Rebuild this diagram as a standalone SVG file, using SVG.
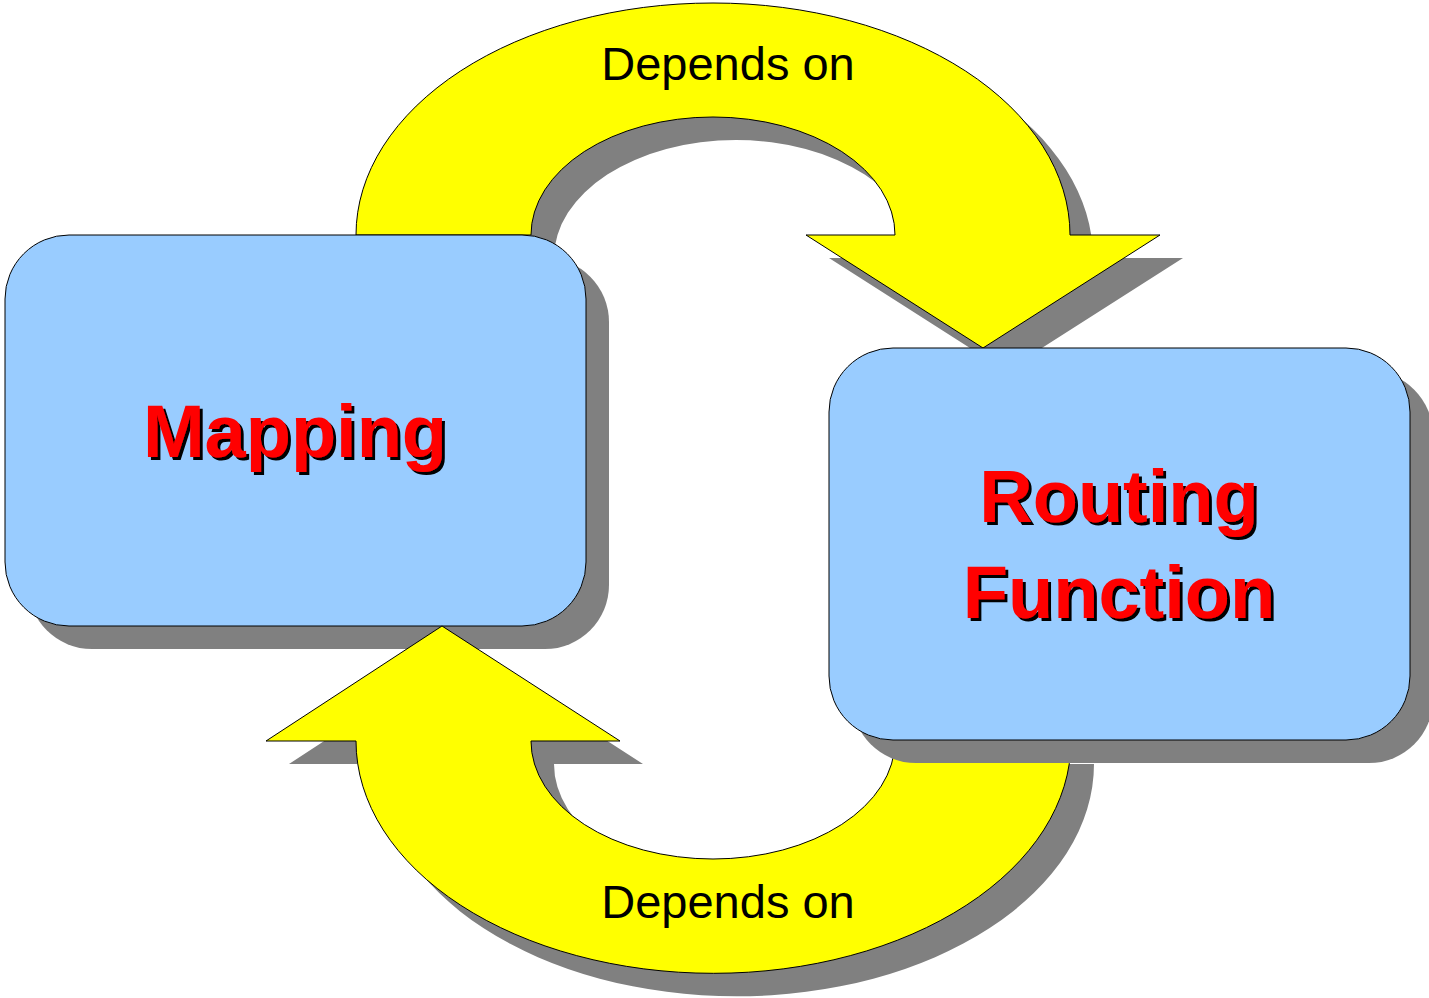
<svg xmlns="http://www.w3.org/2000/svg" xmlns:xlink="http://www.w3.org/1999/xlink" width="1429" height="998" viewBox="0 0 1429 998">
<style>
.shadow{fill:#808080;stroke:none}
.arrow{fill:#ffff00;stroke:#000;stroke-width:1}
.box{fill:#99ccff;stroke:#000;stroke-width:1}
.lbl{font-family:"Liberation Sans",Arial,sans-serif;font-size:47px;fill:#000;text-anchor:middle}
.title{font-family:"Liberation Sans",Arial,sans-serif;font-size:74px;font-weight:bold;text-anchor:middle;fill:#ff0000;filter:url(#tshadow)}
</style>
<defs>
<filter id="tshadow" x="-10%" y="-20%" width="120%" height="140%">
<feOffset in="SourceAlpha" dx="3" dy="3" result="off"/>
<feFlood flood-color="#000"/>
<feComposite in2="off" operator="in" result="sh"/>
<feMerge><feMergeNode in="sh"/><feMergeNode in="SourceGraphic"/></feMerge>
</filter>
<path id="arrowTop" d="M356,235 A357,232 0 0 1 1070,235 L1160,235 L983,348 L806,235 L895,235 A182,118 0 0 0 531,235 Z"/>
<path id="arrowBottom" d="M442,626 L620,741 L531,741 A182,118 0 0 0 895,741 L1071,741 A357,232 0 0 1 356,741 L266,741 Z"/>
<rect id="boxMap" x="5" y="235" width="581" height="391" rx="64" ry="64"/>
<rect id="boxRoute" x="829" y="348" width="581" height="392" rx="64" ry="64"/>
</defs>
<rect width="1429" height="998" fill="#fff"/>
<g id="connectors">
<g id="edge-mapping-routing">
<use xlink:href="#arrowTop" class="shadow" transform="translate(23,23)"/>
<use xlink:href="#arrowTop" class="arrow"/>
<text class="lbl" x="728" y="80">Depends on</text>
</g>
</g>
<g id="node-mapping">
<use xlink:href="#boxMap" class="shadow" transform="translate(23,23)"/>
<use xlink:href="#boxMap" class="box"/>
<text class="title" x="295" y="457">Mapping</text>
</g>
<g id="connectors-2">
<g id="edge-routing-mapping">
<use xlink:href="#arrowBottom" class="shadow" transform="translate(23,23)"/>
<use xlink:href="#arrowBottom" class="arrow"/>
<text class="lbl" x="728" y="918">Depends on</text>
</g>
</g>
<g id="node-routing">
<use xlink:href="#boxRoute" class="shadow" transform="translate(23,23)"/>
<use xlink:href="#boxRoute" class="box"/>
<text class="title" x="1119" y="522">Routing</text>
<text class="title" x="1119" y="618">Function</text>
</g>
</svg>
